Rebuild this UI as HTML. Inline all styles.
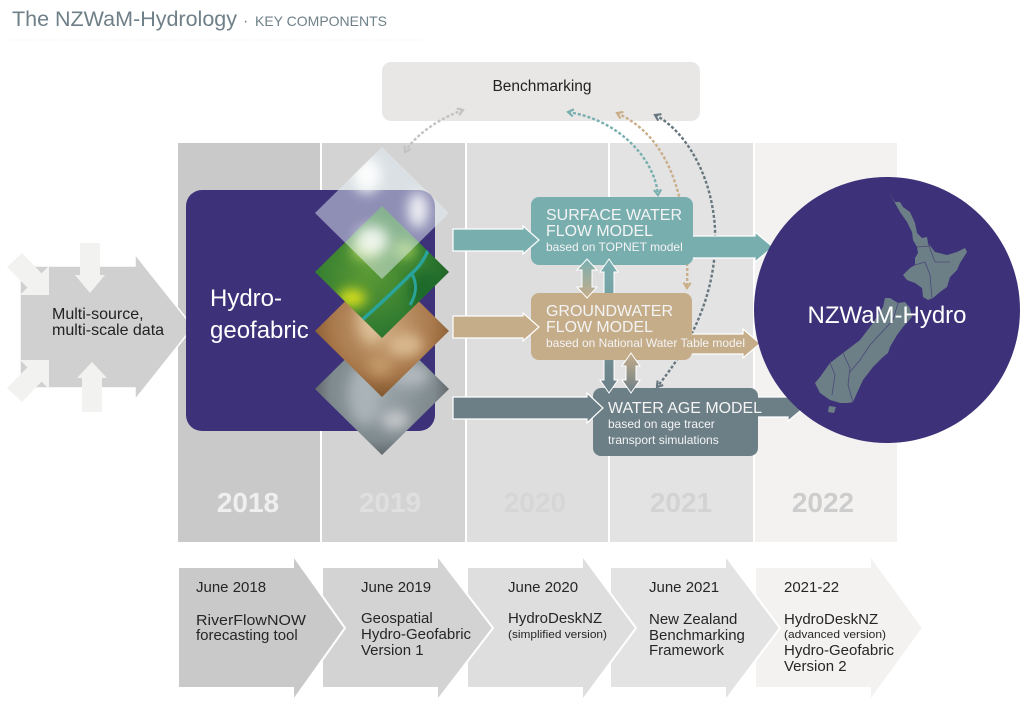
<!DOCTYPE html>
<html><head><meta charset="utf-8">
<style>
html,body{margin:0;padding:0;background:#fff;}
svg{display:block;}
text{font-family:"Liberation Sans",Arial,sans-serif;}
</style></head><body>
<svg width="1035" height="712" viewBox="0 0 1035 712" xmlns="http://www.w3.org/2000/svg">
<defs>
  <marker id="mg" viewBox="0 0 10 10" refX="7" refY="5" markerWidth="9" markerHeight="9" markerUnits="userSpaceOnUse" orient="auto-start-reverse"><path d="M1,1 L7,5 L1,9" fill="none" stroke="#c2c2c2" stroke-width="2.4"/></marker>
  <marker id="mt" viewBox="0 0 10 10" refX="7" refY="5" markerWidth="9" markerHeight="9" markerUnits="userSpaceOnUse" orient="auto-start-reverse"><path d="M1,1 L7,5 L1,9" fill="none" stroke="#7aafb0" stroke-width="2.4"/></marker>
  <marker id="mb" viewBox="0 0 10 10" refX="7" refY="5" markerWidth="9" markerHeight="9" markerUnits="userSpaceOnUse" orient="auto-start-reverse"><path d="M1,1 L7,5 L1,9" fill="none" stroke="#c9ae88" stroke-width="2.4"/></marker>
  <marker id="ms" viewBox="0 0 10 10" refX="7" refY="5" markerWidth="9" markerHeight="9" markerUnits="userSpaceOnUse" orient="auto-start-reverse"><path d="M1,1 L7,5 L1,9" fill="none" stroke="#66777f" stroke-width="2.4"/></marker>
  <filter id="bl" x="-50%" y="-50%" width="200%" height="200%"><feGaussianBlur stdDeviation="6"/></filter>
  <clipPath id="c1"><path d="M382,147 L449,213 L382,279 L315,213Z"/></clipPath>
  <clipPath id="c2"><path d="M382,206 L449,272 L382,338 L315,272Z"/></clipPath>
  <clipPath id="c3"><path d="M382,265 L449,331 L382,397 L315,331Z"/></clipPath>
  <clipPath id="c4"><path d="M382,323 L449,389 L382,455 L315,389Z"/></clipPath>
  <radialGradient id="g4" cx="50%" cy="50%" r="60%"><stop offset="0" stop-color="#9aa5aa"/><stop offset="0.6" stop-color="#7f8a8f"/><stop offset="1" stop-color="#3e3e3e"/></radialGradient>
  <radialGradient id="g3" cx="50%" cy="45%" r="60%"><stop offset="0" stop-color="#caa67b"/><stop offset="0.6" stop-color="#a7774a"/><stop offset="1" stop-color="#6e4520"/></radialGradient>
  <radialGradient id="g2" cx="40%" cy="50%" r="60%"><stop offset="0" stop-color="#5c9a35"/><stop offset="0.7" stop-color="#2f7a30"/><stop offset="1" stop-color="#1f5e28"/></radialGradient>
  <linearGradient id="vA" x1="0" y1="0" x2="0" y2="1"><stop offset="0" stop-color="#7aafb0"/><stop offset="1" stop-color="#c5ad8a"/></linearGradient>
  <linearGradient id="vB" x1="0" y1="0" x2="0" y2="1"><stop offset="0" stop-color="#7aafb0"/><stop offset="1" stop-color="#6c7f87"/></linearGradient>
  <linearGradient id="vC" x1="0" y1="0" x2="0" y2="1"><stop offset="0" stop-color="#c5ad8a"/><stop offset="1" stop-color="#6c7f87"/></linearGradient>
</defs>

<!-- Title -->
<text x="12" y="26" font-size="21.5" fill="#6f8089">The NZWaM-Hydrology</text>
<text x="243" y="26" font-size="16" fill="#6f8089">·</text>
<text x="255" y="26" font-size="14" fill="#6f8089">KEY COMPONENTS</text>
<line x1="10" y1="40" x2="425" y2="40" stroke="#eeeeee" stroke-width="1" stroke-dasharray="1 2"/>

<!-- Benchmarking -->
<rect x="382" y="62" width="318" height="59" rx="9" fill="#e8e7e6"/>
<text x="542" y="91" font-size="15.5" fill="#222" text-anchor="middle">Benchmarking</text>

<!-- Columns -->
<rect x="178" y="143" width="142" height="399" fill="#c9c9c9"/>
<rect x="322" y="143" width="143" height="399" fill="#d3d3d3"/>
<rect x="467" y="143" width="141" height="399" fill="#dedede"/>
<rect x="610" y="143" width="143" height="399" fill="#e4e3e4"/>
<rect x="755" y="143" width="142" height="399" fill="#f3f2f1"/>

<g font-size="28" font-weight="bold" text-anchor="middle">
<text x="248" y="512" fill="#efefef">2018</text>
<text x="390" y="512" fill="#dfdfdf">2019</text>
<text x="535" y="512" fill="#d6d6d6">2020</text>
<text x="681" y="512" fill="#d3d3d3">2021</text>
<text x="823" y="512" fill="#cdcdcd">2022</text>
</g>

<!-- Bottom chevrons -->
<g stroke="#fff" stroke-width="2">
<path d="M755,567 H870 V555 L923,628 L870,701 V688 H755 Z" fill="#f3f2f1"/>
<path d="M610,567 H725 V555 L780,628 L725,701 V688 H610 Z" fill="#e4e3e4"/>
<path d="M467,567 H582 V555 L636,628 L582,701 V688 H467 Z" fill="#dedede"/>
<path d="M322,567 H437 V555 L493,628 L437,701 V688 H322 Z" fill="#d3d3d3"/>
<path d="M178,567 H293 V555 L345,628 L293,701 V688 H178 Z" fill="#c9c9c9"/>
</g>
<g font-size="15" fill="#262626">
<text x="196" y="592">June 2018</text>
<text x="196" y="625" textLength="110" lengthAdjust="spacingAndGlyphs">RiverFlowNOW</text>
<text x="196" y="640">forecasting tool</text>
<text x="361" y="592">June 2019</text>
<text x="361" y="623">Geospatial</text>
<text x="361" y="639">Hydro-Geofabric</text>
<text x="361" y="655">Version 1</text>
<text x="508" y="592">June 2020</text>
<text x="508" y="623">HydroDeskNZ</text>
<text x="508" y="638" font-size="11" textLength="99" lengthAdjust="spacingAndGlyphs">(simplified version)</text>
<text x="649" y="592">June 2021</text>
<text x="649" y="624">New Zealand</text>
<text x="649" y="640">Benchmarking</text>
<text x="649" y="655">Framework</text>
<text x="784" y="592">2021-22</text>
<text x="784" y="624">HydroDeskNZ</text>
<text x="784" y="638" font-size="11" textLength="102" lengthAdjust="spacingAndGlyphs">(advanced version)</text>
<text x="784" y="655">Hydro-Geofabric</text>
<text x="784" y="671">Version 2</text>
</g>

<!-- Left multi-source arrow -->
<path d="M20,266 H135 V254 L193,327 L135,400 V388 H20 Z" fill="#d0d0d0" stroke="#fff" stroke-width="1.5"/>
<g fill="#f2f2f1">
<path d="M80,243 H100 V275 H105 L90,293 L75,275 H80 Z"/>
<path d="M82,412 H102 V378 H107 L92,362 L77,378 H82 Z"/>
<path d="M22,253 L41.6,273.4 L49,266 L49,295 L20,295 L27.4,287.6 L7,267 Z"/>
<path d="M22,402 L41.6,381.6 L49,389 L49,360 L20,360 L27.4,367.4 L7,388 Z"/>
</g>
<text x="52" y="319" font-size="16" fill="#222">Multi-source,</text>
<text x="52" y="335" font-size="16" fill="#222">multi-scale data</text>

<!-- Dashed curves -->
<g fill="none" stroke-width="2.4" stroke-dasharray="3 2">
<path d="M463,110 C440,118 415,135 405,152" stroke="#c2c2c2" marker-start="url(#mg)" marker-end="url(#mg)"/>
<path d="M568,112 C620,120 655,160 658,195" stroke="#7aafb0" marker-start="url(#mt)" marker-end="url(#mt)"/>
<path d="M617,113 C665,135 690,190 687,288" stroke="#c9ae88" marker-start="url(#mb)" marker-end="url(#mb)"/>
<path d="M655,115 C705,140 760,260 657,387" stroke="#66777f" marker-start="url(#ms)" marker-end="url(#ms)"/>
</g>

<!-- Purple hydro-geofabric box -->
<rect x="186" y="190" width="249" height="241" rx="16" fill="#3d3179"/>
<text x="210" y="306" font-size="24" fill="#fff">Hydro-</text>
<text x="210" y="338" font-size="24" fill="#fff">geofabric</text>

<!-- Diamonds -->
<g clip-path="url(#c4)">
  <rect x="310" y="320" width="145" height="140" fill="url(#g4)"/>
  <g filter="url(#bl)">
    <ellipse cx="365" cy="395" rx="16" ry="30" fill="#a9b3b8"/>
    <ellipse cx="410" cy="375" rx="20" ry="12" fill="#b0b8bc"/>
    <ellipse cx="395" cy="420" rx="14" ry="10" fill="#c2c6c8"/>
  </g>
</g>
<g clip-path="url(#c3)">
  <rect x="310" y="262" width="145" height="140" fill="url(#g3)"/>
  <g filter="url(#bl)">
    <ellipse cx="372" cy="318" rx="14" ry="26" fill="#dcbd94"/>
    <ellipse cx="405" cy="345" rx="18" ry="12" fill="#d9b88e"/>
    <ellipse cx="380" cy="365" rx="12" ry="10" fill="#c49a6a"/>
  </g>
</g>
<g clip-path="url(#c2)">
  <rect x="310" y="203" width="145" height="140" fill="url(#g2)"/>
  <g filter="url(#bl)">
    <ellipse cx="352" cy="298" rx="14" ry="9" fill="#dde21e"/>
    <ellipse cx="365" cy="250" rx="14" ry="10" fill="#a8cf5a"/>
    <ellipse cx="405" cy="250" rx="12" ry="9" fill="#95c451"/>
    <ellipse cx="425" cy="290" rx="16" ry="20" fill="#1f6a2c"/>
  </g>
  <path d="M430,245 C425,260 418,268 410,275 C400,285 385,300 362,320" fill="none" stroke="#2aa39a" stroke-width="3.5"/>
  <path d="M412,274 C418,285 416,295 410,305" fill="none" stroke="#2aa39a" stroke-width="3"/>
</g>
<g clip-path="url(#c1)">
  <rect x="310" y="145" width="145" height="140" fill="#e2eef3" fill-opacity="0.5"/>
  <g filter="url(#bl)">
    <ellipse cx="367" cy="175" rx="14" ry="18" fill="#ffffff" fill-opacity="0.9"/>
    <ellipse cx="418" cy="210" rx="10" ry="18" fill="#ffffff" fill-opacity="0.85"/>
    <ellipse cx="372" cy="240" rx="16" ry="14" fill="#ffffff" fill-opacity="0.8"/>
  </g>
</g>

<!-- Right arrows (behind boxes) -->
<g stroke="#fff" stroke-width="1.2">
<path d="M685,236 H755 V232 L773,247 L755,262 V258 H685 Z" fill="#79aeaf"/>
<path d="M685,334 H743 V329 L760,343.5 L743,358 V354 H685 Z" fill="#c5ad8a"/>
<path d="M750,397 H788 V393 L805,407 L788,421 V417 H750 Z" fill="#6c7f87"/>
</g>

<!-- Model boxes -->
<rect x="531" y="197" width="162" height="68" rx="8" fill="#79aeaf"/>
<rect x="593" y="388" width="165" height="68" rx="8" fill="#6c7f87"/>
<path d="M609,259 L618,272 H614 V380 H618 L609,393 L600,380 H604 V272 H600 Z" fill="url(#vB)" stroke="#fff" stroke-width="1"/>
<rect x="531" y="293" width="161" height="67" rx="8" fill="#c5ad8a"/>

<!-- vertical double arrows -->
<path d="M587,259 L597,270 H592 V287 H597 L587,298 L577,287 H582 V270 H577 Z" fill="url(#vA)" stroke="#fff" stroke-width="1"/>
<path d="M631,353 L640,366 H636 V380 H640 L631,393 L622,380 H626 V366 H622 Z" fill="url(#vC)" stroke="#fff" stroke-width="1"/>

<!-- Left arrows into models -->
<g stroke="#fff" stroke-width="1.2">
<path d="M453,229 H523 V226 L539,240 L523,254 V251 H453 Z" fill="#79aeaf"/>
<path d="M453,316 H523 V313 L539,327 L523,341 V338 H453 Z" fill="#c5ad8a"/>
<path d="M453,397 H587 V393 L603,408 L587,423 V419 H453 Z" fill="#6c7f87"/>
</g>

<!-- Model texts -->
<g fill="#f4f4f4">
<text x="546" y="220" font-size="15.5" textLength="136" lengthAdjust="spacingAndGlyphs">SURFACE WATER</text>
<text x="546" y="236" font-size="15.5" textLength="107" lengthAdjust="spacingAndGlyphs">FLOW MODEL</text>
<text x="546" y="251" font-size="12">based on TOPNET model</text>
<text x="546" y="316" font-size="15.5" textLength="127" lengthAdjust="spacingAndGlyphs">GROUNDWATER</text>
<text x="546" y="332" font-size="15.5" textLength="107" lengthAdjust="spacingAndGlyphs">FLOW MODEL</text>
<text x="546" y="347" font-size="12" textLength="199" lengthAdjust="spacingAndGlyphs">based on National Water Table model</text>
<text x="608" y="413" font-size="15.5" textLength="154" lengthAdjust="spacingAndGlyphs">WATER AGE MODEL</text>
<text x="608" y="428" font-size="12">based on age tracer</text>
<text x="608" y="444" font-size="12">transport simulations</text>
</g>

<!-- NZWaM-Hydro circle -->
<circle cx="887" cy="310" r="133" fill="#3d3179"/>
<g fill="#6c7f87">
<path d="M889,192 L895,202 L900,202 L903,207 L910,212 L915,223 L917,233 L922,238 L927,237 L928,243 L935,252 L947,255 L957,252 L965,248 L967,252 L960,263 L957,270 L950,277 L947,287 L940,292 L933,298 L928,300 L923,297 L922,288 L915,283 L907,280 L903,275 L910,268 L915,265 L915,258 L918,253 L917,247 L913,240 L912,232 L907,222 L900,212 L895,203 Z"/>
<path d="M885,298 L890,298 L898,303 L905,302 L910,308 L912,317 L903,327 L897,335 L890,347 L888,353 L883,357 L873,367 L863,380 L857,393 L853,402 L848,403 L840,403 L830,400 L820,393 L815,383 L820,377 L830,363 L843,353 L860,340 L873,323 L883,307 Z"/>
<path d="M829,406 L836,407 L834,413 L828,412 Z"/>
</g>
<g fill="none" stroke="#4b4878" stroke-width="0.8">
<path d="M915,265 L925,262 L930,275 L932,298"/>
<path d="M928,243 L935,262 L950,262"/>
<path d="M917,247 L930,246"/>
<path d="M898,303 L893,320 L870,345 L860,360 L850,372"/>
<path d="M843,353 L850,368 L848,385 L853,402"/>
<path d="M830,363 L835,375 L832,395"/>
</g>
<text x="887" y="323" font-size="24" fill="#fff" text-anchor="middle" textLength="159" lengthAdjust="spacingAndGlyphs">NZWaM-Hydro</text>
</svg>
</body></html>
